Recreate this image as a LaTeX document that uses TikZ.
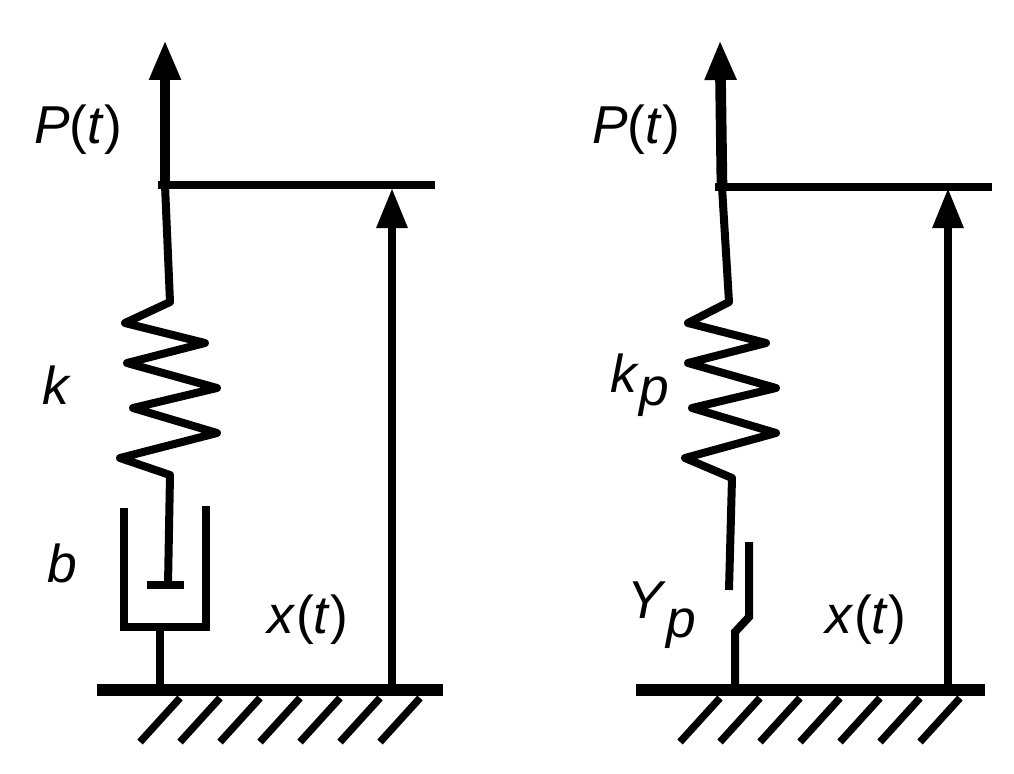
\documentclass[tikz,border=0pt]{standalone}
\usepackage{fontspec}
\setmainfont{Liberation Sans}
\usetikzlibrary{arrows.meta}
\begin{document}
\begin{tikzpicture}[x=0.75pt,y=-0.75pt,line width=6pt,
  arr/.style={-{Triangle[length=30pt,width=22pt]}},
  lbl/.style={font=\fontsize{40}{44}\selectfont,inner sep=0pt},
  gnd/.style={line width=9pt},
  hat/.style={line width=5.5pt}]
\useasboundingbox (0,0) rectangle (1014,774);
% ---- left system
\coordinate (Lp) at (165,185);
\draw[arr,line width=8pt] (Lp) -- (165,40);
\draw (158,185) -- (435,185);
\draw[line join=round] (Lp) -- (170,302) -- (125,323) -- (205,343) -- (127,363) -- (217,388) -- (133,408) -- (217,433) -- (120,458) -- (170,475) -- (168,585);
\draw (147,585) -- (184,585);
\draw[line join=miter] (124,508) -- (124,627) -- (206,627) -- (206,506);
\draw (160,627) -- (160,690);
\draw[gnd] (97,690) -- (443,690);
\foreach \i in {0,...,6} \draw[hat] (180+40*\i,698) -- (140+40*\i,742);
\draw[arr] (392,690) -- (392,188);
\node[lbl] (Pl) at (78,130) {\textit{P}(\textit{t})};
\node[lbl] (kl) at (57,385) {\textit{k}};
\node[lbl] (bl) at (62,563) {\textit{b}};
\node[lbl] (xl) at (308,620) {\textit{x}(\textit{t})};
% ---- right system
\coordinate (Rp) at (722,187);
\draw[arr,line width=8pt] (Rp) -- (720,40);
\draw (715,187) -- (992,187);
\draw[line join=round] (Rp) -- (729,302) -- (688,323) -- (766,343) -- (688,363) -- (776,388) -- (692,408) -- (776,433) -- (685,458) -- (732,478) -- (729,590);
\draw[line join=miter] (749,542) -- (749,617) -- (735,632) -- (735,690);
\draw[gnd] (636,690) -- (985,690);
\foreach \i in {0,...,6} \draw[hat] (720+40*\i,698) -- (680+40*\i,742);
\draw[arr] (948,690) -- (948,188);
\node[lbl] (Pr) at (636,130) {\textit{P}(\textit{t})};
\node[lbl] (kr) at (640,385) {\textit{k}\raisebox{-10pt}{\textit{p}}};
\node[lbl] (yr) at (662,615) {\textit{Y}\raisebox{-14pt}{\textit{p}}};
\node[lbl] (xr) at (866,620) {\textit{x}(\textit{t})};
\end{tikzpicture}
\end{document}
